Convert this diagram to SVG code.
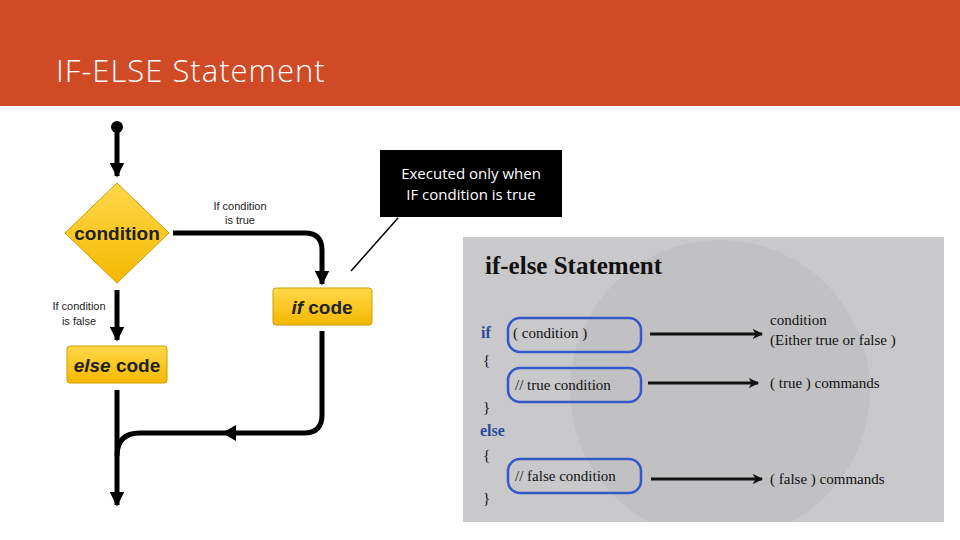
<svg xmlns="http://www.w3.org/2000/svg" width="960" height="540" viewBox="0 0 960 540">
<style>
.fl{stroke:#000;stroke-width:5;fill:none}
.box{fill:url(#yg);stroke:#c9a000;stroke-width:1}
.bt{font-family:"Liberation Sans Narrow","Liberation Sans",sans-serif;font-size:19px;font-weight:bold;fill:#222;text-anchor:middle}
.lb{font-family:"Liberation Sans",sans-serif;font-size:11px;fill:#222;text-anchor:middle}
.sr{font-family:"Liberation Serif",serif;font-size:15px;fill:#111}
.kw{font-family:"Liberation Serif",serif;font-size:16px;fill:#2a4a9a;font-weight:bold}
.cb{fill:none;stroke:#3358c8;stroke-width:2.5}
.ar{stroke:#111;stroke-width:3;fill:none}
</style>
<defs>
<linearGradient id="yg" x1="0" y1="0" x2="0" y2="1"><stop offset="0" stop-color="#ffd84a"/><stop offset="1" stop-color="#f5b800"/></linearGradient>
<marker id="ah" viewBox="0 0 10 10" refX="9" refY="5" markerWidth="3" markerHeight="3" orient="auto"><path d="M0,0L10,5L0,10z" fill="#000"/></marker>
<marker id="ah2" viewBox="0 0 10 10" refX="9" refY="5" markerWidth="5" markerHeight="3.5" orient="auto"><path d="M0,0L10,5L0,10L3,5z" fill="#111"/></marker>
<clipPath id="imgclip"><rect x="463" y="237" width="481" height="285"/></clipPath>
</defs>
<rect width="960" height="540" fill="#fff"/>
<g id="header"><rect width="960" height="106" fill="#d04a25"/>
<text x="56" y="82" font-family="'Open Sans','Noto Sans',sans-serif" font-size="31" font-weight="300" letter-spacing="1" fill="#fff">IF-ELSE Statement</text></g>
<g id="connectors">
<circle cx="117" cy="127" r="6" fill="#000"/>
<path class="fl" d="M117,127V176" marker-end="url(#ah)"/>
<path class="fl" d="M173,233H305Q322,233 322,250V284" marker-end="url(#ah)"/>
<path class="fl" d="M117,290V340" marker-end="url(#ah)"/>
<path class="fl" d="M117,390V505" marker-end="url(#ah)"/>
<path class="fl" d="M322,331V415Q322,433 304,433H140Q117,433 117,456"/>
<path d="M222,433L236,425V441z" fill="#000"/>
<line x1="351" y1="271" x2="398" y2="218" stroke="#000" stroke-width="1.5"/>
</g>
<g id="condition"><path d="M117,183L169,233L117,283L65,233z" class="box" stroke-linejoin="round"/><text class="bt" x="117" y="240">condition</text></g>
<g id="ifcode"><rect class="box" x="273" y="288" width="99" height="37" rx="3"/><text class="bt" x="322" y="314"><tspan font-style="italic">if</tspan> code</text></g>
<g id="elsecode"><rect class="box" x="67" y="346" width="100" height="37" rx="3"/><text class="bt" x="117" y="372"><tspan font-style="italic">else</tspan> code</text></g>
<g id="labels">
<text class="lb" x="240" y="210">If condition</text><text class="lb" x="240" y="224">is true</text>
<text class="lb" x="79" y="310">If condition</text><text class="lb" x="79" y="325">is false</text>
</g>
<g id="callout"><rect x="380" y="150" width="182" height="67" fill="#000"/>
<text x="471" y="179" font-family="'Open Sans','Noto Sans',sans-serif" font-size="15" fill="#fff" text-anchor="middle">Executed only when</text>
<text x="471" y="200" font-family="'Open Sans','Noto Sans',sans-serif" font-size="15" fill="#fff" text-anchor="middle">IF condition is true</text></g>
<g id="codeimage">
<rect x="463" y="237" width="481" height="285" fill="#c9c9cb"/>
<g clip-path="url(#imgclip)"><circle cx="720" cy="390" r="150" fill="#bdbdbf" opacity="0.6"/></g>
<text x="485" y="274" font-family="'Liberation Serif',serif" font-size="25" font-weight="bold" fill="#111">if-else Statement</text>
<text class="kw" x="481" y="338">if</text>
<text class="sr" x="483" y="365">{</text>
<text class="sr" x="483" y="412">}</text>
<text class="kw" x="480" y="436">else</text>
<text class="sr" x="483" y="460">{</text>
<text class="sr" x="483" y="503">}</text>
<rect class="cb" x="508" y="318" width="133" height="34" rx="12"/>
<rect class="cb" x="508" y="368" width="133" height="34" rx="12"/>
<rect class="cb" x="508" y="459" width="133" height="34" rx="12"/>
<text class="sr" x="513" y="338">( condition )</text>
<text class="sr" x="515" y="390">// true condition</text>
<text class="sr" x="515" y="481">// false condition</text>
<path class="ar" d="M650,334H762" marker-end="url(#ah2)"/>
<path class="ar" d="M648,383H758" marker-end="url(#ah2)"/>
<path class="ar" d="M651,479H762" marker-end="url(#ah2)"/>
<text class="sr" x="770" y="325">condition</text>
<text class="sr" x="770" y="345">(Either true or false )</text>
<text class="sr" x="770" y="388">( true ) commands</text>
<text class="sr" x="770" y="484">( false ) commands</text>
</g>
</svg>
